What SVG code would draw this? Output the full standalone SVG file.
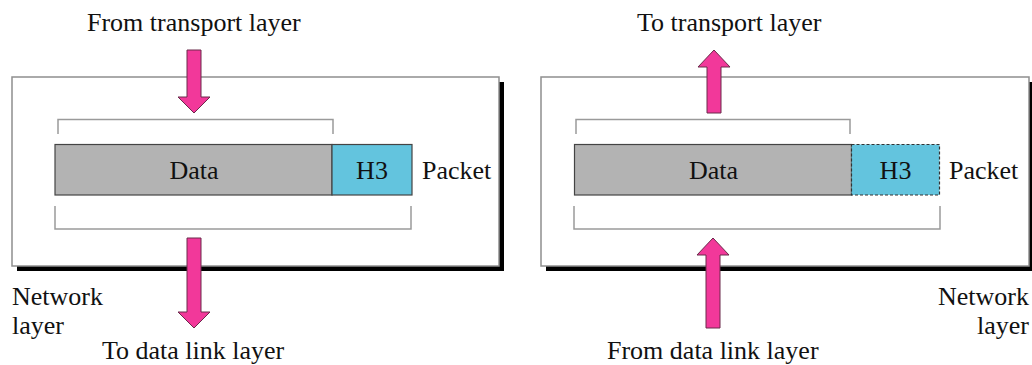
<svg xmlns="http://www.w3.org/2000/svg" width="1032" height="365" viewBox="0 0 1032 365">
<style>
text{font-family:"Liberation Serif","Times New Roman",serif;font-size:26px;fill:#111}
.shadow{fill:#000}
.box{fill:#fff;stroke:#8f8f8f;stroke-width:1.5}
.br{fill:none;stroke:#9a9a9a;stroke-width:1.5}
.data{fill:#b3b3b3;stroke:#444;stroke-width:1.2}
.h3{fill:#63c4de;stroke:#444;stroke-width:1.2}
.h3d{fill:#63c4de;stroke:#333;stroke-width:1.2;stroke-dasharray:3 2}
.arr{fill:#f2389a;stroke:#6a2a4a;stroke-width:1}
</style>
<g id="left-layer">
<rect class="shadow" x="17" y="82" width="487" height="189"/>
<rect class="box" x="12" y="77" width="487" height="189"/>
</g>
<g id="right-layer">
<rect class="shadow" x="546" y="82" width="495" height="189"/>
<rect class="box" x="541" y="77" width="488" height="189"/>
</g>
<g id="left-packet">
<path class="br" d="M58,134 V119.5 H333 V134"/>
<rect class="data" x="55" y="144.5" width="277" height="50.5"/>
<rect class="h3" x="332" y="144.5" width="80" height="50.5"/>
<text x="194" y="179" text-anchor="middle">Data</text>
<text x="372" y="179" text-anchor="middle">H3</text>
<text x="422" y="179">Packet</text>
<path class="br" d="M55,206 V229 H411 V206"/>
</g>
<g id="right-packet">
<path class="br" d="M576,134 V119.5 H850 V134"/>
<rect class="data" x="574.5" y="144.5" width="277" height="50.5"/>
<rect class="h3d" x="851.5" y="144.5" width="88" height="50.5"/>
<text x="713.5" y="179" text-anchor="middle">Data</text>
<text x="895.5" y="179" text-anchor="middle">H3</text>
<text x="949" y="179">Packet</text>
<path class="br" d="M574,206 V229 H940 V206"/>
</g>
<g id="connectors">
<polygon class="arr" points="187,50 201,50 201,97 210,97 194,113 178,97 187,97"/>
<polygon class="arr" points="187,238 201,238 201,312 210,312 194,328 178,312 187,312"/>
<polygon class="arr" points="707,113 721,113 721,67 730,67 714,50 698,67 707,67"/>
<polygon class="arr" points="706,328 720,328 720,255 729,255 713,238 697,255 706,255"/>
</g>
<g id="labels">
<text x="87" y="31">From transport layer</text>
<text x="102" y="359">To data link layer</text>
<text x="12" y="305">Network</text>
<text x="12" y="334">layer</text>
<text x="637" y="31">To transport layer</text>
<text x="607" y="359">From data link layer</text>
<text x="1029" y="305" text-anchor="end">Network</text>
<text x="1029" y="334" text-anchor="end">layer</text>
</g>
</svg>
